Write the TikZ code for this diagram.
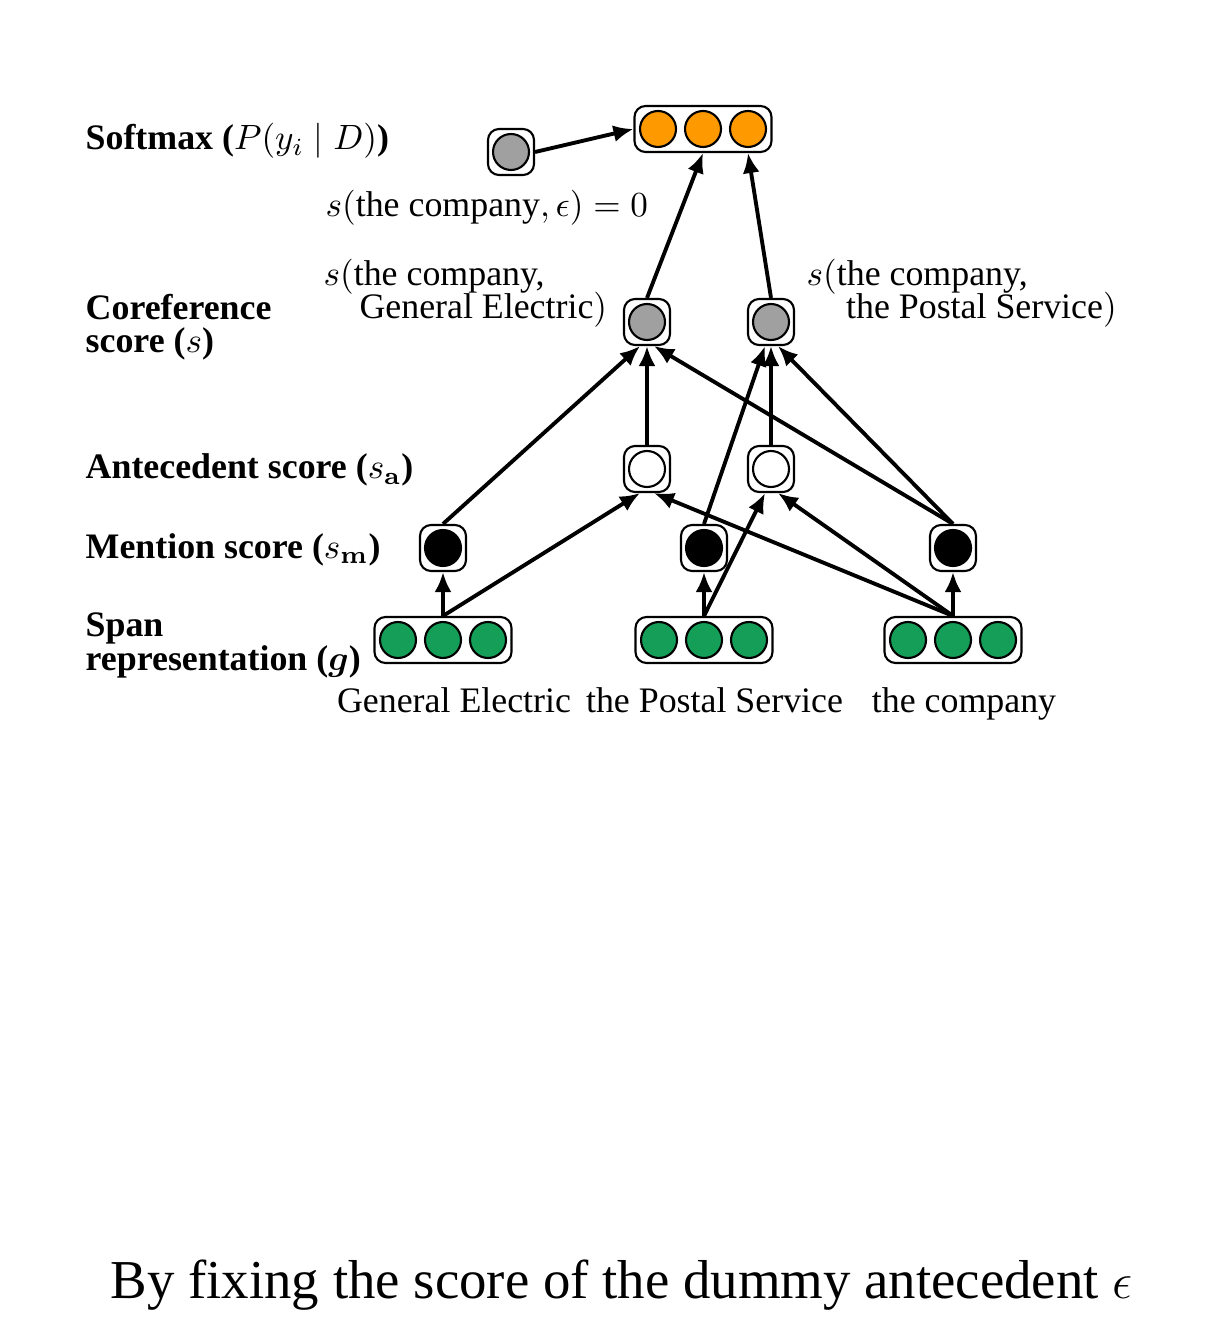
\documentclass[tikz,border=0pt]{standalone}
\usepackage[no-math]{fontspec}
\setmainfont{Liberation Serif}
\usepackage{bm}
\usetikzlibrary{arrows.meta}
\definecolor{spangreen}{RGB}{20,158,87}
\definecolor{softorange}{RGB}{255,153,0}
\definecolor{scoregray}{RGB}{160,160,160}
\newcommand{\figfont}{\fontsize{10.2pt}{9.6pt}\selectfont\lineskiplimit=-20pt}
\tikzset{
  unit/.style={draw, rounded corners=1.1mm, line width=0.6pt, minimum width=0.46cm, minimum height=0.46cm, inner sep=0pt},
  triple/.style={unit, minimum width=1.37cm},
  neuron/.style={circle, draw, line width=0.6pt, minimum size=0.36cm, inner sep=0pt, fill=#1},
  conn/.style={-{Latex[length=2mm,width=1.7mm]}, line width=1.1pt},
  rowlabel/.style={anchor=base west, inner sep=0pt, font=\figfont\bfseries, align=left},
  scorelabel/.style={anchor=base west, inner sep=0pt, align=left},
  wordlabel/.style={anchor=base, inner sep=0pt},
}

\begin{document}
\begin{tikzpicture}[font=\figfont]
\useasboundingbox (0,0) rectangle (12.3,-13.2);
% boxes
\node[unit] (dummy) at (5.11,-1.52) {};
\node[neuron=scoregray] (dummyc) at (dummy) {};
\node[triple] (soft) at (7.03,-1.29) {};
\foreach \i/\dx in {1/-0.45,2/0,3/0.45}
  \node[neuron=softorange] (soft\i) at ([xshift=\dx cm]soft.center) {};
\node[unit] (coref1) at (6.47,-3.22) {};
\node[unit] (coref2) at (7.71,-3.22) {};
\node[neuron=scoregray] (coref1c) at (coref1) {};
\node[neuron=scoregray] (coref2c) at (coref2) {};
\node[unit] (ant1) at (6.47,-4.69) {};
\node[unit] (ant2) at (7.71,-4.69) {};
\node[neuron=white] (ant1c) at (ant1) {};
\node[neuron=white] (ant2c) at (ant2) {};
\foreach \n/\x in {1/4.43,2/7.04,3/9.53}{
  \node[unit] (men\n) at (\x,-5.48) {};
  \node[neuron=black] (men\n c) at (men\n) {};
  \node[triple] (span\n) at (\x,-6.40) {};
  \foreach \i/\dx in {1/-0.45,2/0,3/0.45}
    \node[neuron=spangreen] (span\n\i) at ([xshift=\dx cm]span\n.center) {};
}
% arrows
\draw[conn] (span1.north) -- (men1.south);
\draw[conn] (span2.north) -- (men2.south);
\draw[conn] (span3.north) -- (men3.south);
\draw[conn] (span1.north) -- ([xshift=-0.07cm]ant1.south);
\draw[conn] (span3.north) -- ([xshift=0.07cm]ant1.south);
\draw[conn] (span2.north) -- ([xshift=-0.06cm]ant2.south);
\draw[conn] (span3.north) -- ([xshift=0.07cm]ant2.south);
\draw[conn] (men1.north) -- ([xshift=-0.07cm]coref1.south);
\draw[conn] (ant1.north) -- (coref1.south);
\draw[conn] (men3.north) -- ([xshift=0.07cm]coref1.south);
\draw[conn] (men2.north) -- ([xshift=-0.06cm]coref2.south);
\draw[conn] (ant2.north) -- (coref2.south);
\draw[conn] (men3.north) -- ([xshift=0.07cm]coref2.south);
\draw[conn] (coref1.north) -- (soft2 |- soft.south);
\draw[conn] (coref2.north) -- (soft3 |- soft.south);
\draw[conn] (dummy.east) -- (soft.west);
% labels
\node[rowlabel] (lsoft) at (0.85,-1.50) {Softmax ($P(y_i \mid D)$)};
\node[rowlabel] (lcoref) at (0.85,-3.53) {Coreference\\score ($s$)};
\node[rowlabel] (lant) at (0.85,-4.79) {Antecedent score ($s_{\mathbf{a}}$)};
\node[rowlabel] (lmen) at (0.85,-5.58) {Mention score ($s_{\mathbf{m}}$)};
\node[rowlabel] (lspan) at (0.85,-6.70) {Span\\representation ($\bm{g}$)};
\node[scorelabel] (sdummy) at (3.25,-2.17) {$s($the company$, \epsilon) = 0$};
\node[scorelabel] (scoref1) at (3.23,-3.19) {$s($the company,\\\hspace*{1em}General Electric$)$};
\node[scorelabel] (scoref2) at (8.06,-3.19) {$s($the company,\\\hspace*{1.1em}the Postal Service$)$};
\node[wordlabel] (w1) at (4.54,-7.12) {General Electric};
\node[wordlabel] (w2) at (7.145,-7.12) {the Postal Service};
\node[wordlabel] (w3) at (9.64,-7.12) {the company};
\node[anchor=base west, inner sep=0pt, font=\fontsize{15.6pt}{18pt}\selectfont] (body) at (1.10,-12.98) {By fixing the score of the dummy antecedent $\epsilon$};
\end{tikzpicture}
\end{document}
